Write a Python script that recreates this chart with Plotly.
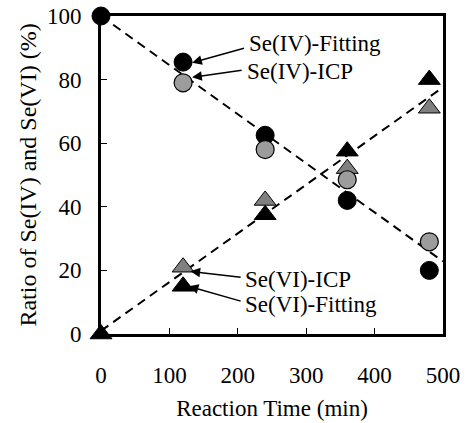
import plotly.graph_objects as go

# Data
time_min = [0, 120, 240, 360, 480]
se4_fitting = [100, 85.5, 62.5, 42, 20]
se4_icp = [None, 79, 58, 48.5, 29]
se6_fitting = [0, 15, 37.5, 57.5, 80]
se6_icp = [None, 21, 42, 52, 71]

trend_x = [0, 500]
trend_se4 = [100, 22.8]
trend_se6 = [1.0, 77.6]

x_ticks = [0, 100, 200, 300, 400, 500]
y_ticks = [0, 20, 40, 60, 80, 100]

FONT = "Liberation Serif, Times New Roman, serif"

fig = go.Figure()

fig.add_trace(go.Scatter(x=trend_x, y=trend_se4, mode="lines",
                         line=dict(color="black", width=2, dash="9px,6px"),
                         cliponaxis=False, showlegend=False))
fig.add_trace(go.Scatter(x=trend_x, y=trend_se6, mode="lines",
                         line=dict(color="black", width=2, dash="9px,6px"),
                         cliponaxis=False, showlegend=False))

fig.add_trace(go.Scatter(x=time_min, y=se6_icp, mode="markers", name="Se(VI)-ICP",
                         marker=dict(symbol="triangle-up", size=19, color="#808080",
                                     line=dict(color="black", width=1)),
                         cliponaxis=False, showlegend=False))
fig.add_trace(go.Scatter(x=time_min, y=se6_fitting, mode="markers", name="Se(VI)-Fitting",
                         marker=dict(symbol="triangle-up", size=19, color="black",
                                     line=dict(color="black", width=1)),
                         cliponaxis=False, showlegend=False))
fig.add_trace(go.Scatter(x=time_min, y=se4_fitting, mode="markers", name="Se(IV)-Fitting",
                         marker=dict(symbol="circle", size=18, color="black",
                                     line=dict(color="black", width=1)),
                         cliponaxis=False, showlegend=False))
fig.add_trace(go.Scatter(x=time_min, y=se4_icp, mode="markers", name="Se(IV)-ICP",
                         marker=dict(symbol="circle", size=18, color="#9c9c9c",
                                     line=dict(color="black", width=1.2)),
                         cliponaxis=False, showlegend=False))

# Labels with arrows: (text, text_x, text_y, arrow_tail_x, arrow_tail_y, head_x, head_y)
labels = [
    ("Se(IV)-Fitting", 213, 91.5, 211.2, 90.0, 133.2, 85.3),
    ("Se(IV)-ICP", 210, 82.5, 207.8, 83.0, 133.2, 80.7),
    ("Se(VI)-ICP", 208, 17, 206.4, 17.8, 130.7, 19.7),
    ("Se(VI)-Fitting", 208, 9.2, 206.4, 10.2, 128.2, 15.0),
]
for text, tx, ty, ax, ay, hx, hy in labels:
    fig.add_annotation(x=hx, y=hy, ax=ax, ay=ay, xref="x", yref="y", axref="x", ayref="y",
                       text="", showarrow=True, arrowhead=2, arrowsize=1.3, arrowwidth=1.5,
                       arrowcolor="black")
    fig.add_annotation(x=tx, y=ty, xref="x", yref="y", text=text, showarrow=False,
                       xanchor="left", yanchor="middle",
                       font=dict(family=FONT, size=23, color="black"))

axis_common = dict(showgrid=False, zeroline=False, showline=True, linecolor="black",
                   linewidth=3, mirror=True, ticks="inside", ticklen=6, tickwidth=1,
                   tickcolor="black", tickfont=dict(family=FONT, size=23, color="black"))

fig.update_xaxes(range=[0, 500], tickvals=x_ticks, ticklabelstandoff=18,
                 title=dict(text="Reaction Time (min)", standoff=14,
                            font=dict(family=FONT, size=23, color="black")),
                 **axis_common)
fig.update_yaxes(range=[0, 100], tickvals=y_ticks, ticklabelstandoff=12,
                 title=dict(text="Ratio of Se(IV) and Se(VI) (%)", standoff=4,
                            font=dict(family=FONT, size=24, color="black")),
                 **axis_common)

fig.update_layout(width=466, height=423,
                  margin=dict(l=101, r=23, t=16, b=89, autoexpand=False),
                  plot_bgcolor="white", paper_bgcolor="white",
                  font=dict(family=FONT, color="black"))

fig.write_html("out.html")
